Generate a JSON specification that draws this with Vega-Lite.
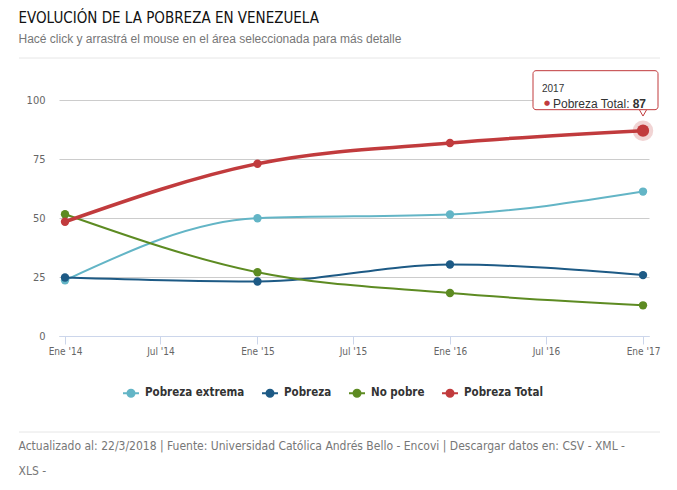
{
  "$schema": "https://vega.github.io/schema/vega-lite/v6.json",
  "background": "white",
  "padding": {"left": 18, "right": 18, "top": 10, "bottom": 5},
  "title": {
    "text": "EVOLUCIÓN DE LA POBREZA EN VENEZUELA",
    "subtitle": "Hacé click y arrastrá el mouse en el área seleccionada para más detalle",
    "anchor": "start",
    "frame": "bounds",
    "font": "DejaVu Sans Condensed, Liberation Sans, sans-serif",
    "fontSize": 15,
    "fontWeight": "normal",
    "color": "#111111",
    "subtitleFont": "Liberation Sans",
    "subtitleFontSize": 12,
    "subtitleColor": "#777777",
    "subtitlePadding": 8,
    "offset": 13
  },
  "datasets": {
    "pobreza": [
      {"fecha": "2014-01-01T00:00:00", "serie": "Pobreza extrema", "valor": 23.6},
      {"fecha": "2015-01-01T00:00:00", "serie": "Pobreza extrema", "valor": 49.9},
      {"fecha": "2016-01-01T00:00:00", "serie": "Pobreza extrema", "valor": 51.5},
      {"fecha": "2017-01-01T00:00:00", "serie": "Pobreza extrema", "valor": 61.2},
      {"fecha": "2014-01-01T00:00:00", "serie": "Pobreza", "valor": 24.8},
      {"fecha": "2015-01-01T00:00:00", "serie": "Pobreza", "valor": 23.1},
      {"fecha": "2016-01-01T00:00:00", "serie": "Pobreza", "valor": 30.3},
      {"fecha": "2017-01-01T00:00:00", "serie": "Pobreza", "valor": 25.8},
      {"fecha": "2014-01-01T00:00:00", "serie": "No pobre", "valor": 51.6},
      {"fecha": "2015-01-01T00:00:00", "serie": "No pobre", "valor": 27.0},
      {"fecha": "2016-01-01T00:00:00", "serie": "No pobre", "valor": 18.2},
      {"fecha": "2017-01-01T00:00:00", "serie": "No pobre", "valor": 13.0},
      {"fecha": "2014-01-01T00:00:00", "serie": "Pobreza Total", "valor": 48.4},
      {"fecha": "2015-01-01T00:00:00", "serie": "Pobreza Total", "valor": 73.0},
      {"fecha": "2016-01-01T00:00:00", "serie": "Pobreza Total", "valor": 81.8},
      {"fecha": "2017-01-01T00:00:00", "serie": "Pobreza Total", "valor": 87.0}
    ]
  },
  "spacing": 11,
  "resolve": {"legend": {"color": "independent"}, "scale": {"color": "independent"}},
  "vconcat": [
    {
      "width": 601,
      "height": 1,
      "data": {"values": [{"s": 1}]},
      "mark": {"type": "rule", "color": "#e6e6e6", "strokeWidth": 1},
      "encoding": {"y": {"value": 0}, "x": {"value": -40}, "x2": {"value": 601}}
    },
    {
      "width": 590,
      "height": 236,
      "data": {"name": "pobreza"},
      "encoding": {
        "x": {
          "field": "fecha",
          "type": "temporal",
          "scale": {"nice": false, "padding": 6},
          "axis": {
            "title": null,
            "grid": false,
            "tickCount": {"interval": "month", "step": 6},
            "labelExpr": "(month(datum.value) == 0 ? 'Ene' : 'Jul') + \" '\" + timeFormat(datum.value, '%y')",
            "domainColor": "#ccd6eb",
            "tickColor": "#ccd6eb",
            "tickSize": 8,
            "labelPadding": 2,
            "labelColor": "#666666",
            "labelFont": "DejaVu Sans Condensed, Liberation Sans, sans-serif",
            "labelFontSize": 10,
            "labelFlush": false
          }
        },
        "y": {
          "field": "valor",
          "type": "quantitative",
          "scale": {"domain": [0, 100], "nice": false},
          "axis": {
            "title": null,
            "values": [0, 25, 50, 75, 100],
            "domain": false,
            "ticks": false,
            "labelPadding": 14,
            "gridColor": "#cccccc",
            "labelColor": "#666666",
            "labelFont": "DejaVu Sans Condensed, Liberation Sans, sans-serif",
            "labelFontSize": 11
          }
        }
      },
      "layer": [
        {
          "mark": {"type": "line", "interpolate": "monotone"},
          "encoding": {
            "color": {
              "field": "serie",
              "type": "nominal",
              "sort": ["Pobreza extrema", "Pobreza", "No pobre", "Pobreza Total"],
              "scale": {
                "domain": ["Pobreza extrema", "Pobreza", "No pobre", "Pobreza Total"],
                "range": ["#63b5c6", "#1d5a85", "#5d8b22", "#c13b3d"]
              },
              "legend": {
                "title": null,
                "orient": "none",
                "legendX": 63,
                "legendY": 284,
                "direction": "horizontal",
                "symbolType": "M-1,0L1,0M-0.44,0A0.44,0.44,0,1,1,0.44,0A0.44,0.44,0,1,1,-0.44,0Z",
                "symbolSize": 256,
                "symbolStrokeWidth": 2,
                "labelFont": "DejaVu Sans Condensed, Liberation Sans, sans-serif",
                "labelFontSize": 11.5,
                "labelFontWeight": "bold",
                "labelColor": "#333333",
                "labelOffset": 5,
                "columnPadding": 13,
                "encode": {
                  "symbols": {
                    "update": {
                      "fill": {"scale": "color", "field": "value"},
                      "stroke": {"scale": "color", "field": "value"},
                      "opacity": {"value": 1}
                    }
                  }
                }
              }
            },
            "strokeWidth": {
              "condition": {"test": "datum.serie === 'Pobreza Total'", "value": 3.5},
              "value": 2
            }
          }
        },
        {
          "mark": {"type": "point", "filled": true, "opacity": 1, "size": 70},
          "encoding": {
            "color": {"field": "serie", "type": "nominal"}
          }
        },
        {
          "transform": [{"filter": "datum.serie === 'Pobreza Total' && datum.valor === 87"}],
          "layer": [
            {"mark": {"type": "point", "filled": true, "color": "#c13b3d", "opacity": 0.22, "size": 420}},
            {"mark": {"type": "point", "filled": true, "color": "#c13b3d", "opacity": 1, "size": 150}},
            {"mark": {"type": "point", "shape": "triangle-down", "filled": true, "fill": "#ffffff", "stroke": "#c13b3d", "strokeWidth": 1, "opacity": 1, "size": 60, "yOffset": -18}},
            {
              "mark": {"type": "rect", "fill": "#ffffff", "fillOpacity": 1, "stroke": "#c13b3d", "strokeWidth": 1, "cornerRadius": 3, "xOffset": -110, "x2Offset": 15, "yOffset": -60, "y2Offset": -21},
              "encoding": {
                "x2": {"field": "fecha"},
                "y2": {"field": "valor"}
              }
            },
            {
              "mark": {"type": "text", "text": "2017", "align": "left", "baseline": "alphabetic", "dx": -101, "dy": -39, "font": "Liberation Sans", "fontSize": 10, "color": "#333333"}
            },
            {
              "mark": {"type": "text", "text": "●", "align": "center", "baseline": "middle", "dx": -96, "dy": -28, "font": "DejaVu Sans", "fontSize": 7, "color": "#c13b3d"}
            },
            {
              "mark": {"type": "text", "text": "Pobreza Total:", "align": "left", "baseline": "alphabetic", "dx": -90, "dy": -23, "font": "Liberation Sans", "fontSize": 12, "color": "#333333"}
            },
            {
              "mark": {"type": "text", "align": "right", "baseline": "alphabetic", "dx": 3, "dy": -23, "font": "Liberation Sans", "fontSize": 12, "fontWeight": "bold", "color": "#333333"},
              "encoding": {"text": {"field": "valor", "type": "quantitative", "format": "d"}}
            }
          ]
        }
      ]
    },
    {
      "width": 601,
      "height": 20,
      "data": {"values": [{"s": 1}]},
      "mark": {"type": "rule", "color": "#e6e6e6", "strokeWidth": 1},
      "encoding": {"y": {"value": 20}, "x": {"value": -40}, "x2": {"value": 601}},
      "title": {
        "text": ["Actualizado al: 22/3/2018 | Fuente: Universidad Católica Andrés Bello - Encovi | Descargar datos en: CSV - XML -", "XLS -"],
        "orient": "bottom",
        "anchor": "start",
        "frame": "bounds",
        "offset": 8,
        "font": "DejaVu Sans Condensed, Liberation Sans, sans-serif",
        "fontSize": 12,
        "fontWeight": "normal",
        "color": "#777777",
        "lineHeight": 25,
        "baseline": "top"
      }
    }
  ],
  "config": {
    "view": {"stroke": null}
  }
}
